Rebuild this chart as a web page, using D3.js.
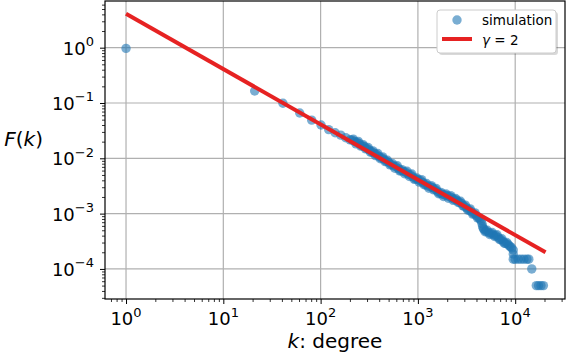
<!DOCTYPE html>
<html lang="en">
<head>
  <meta charset="UTF-8">
  <script src="https://cdn.jsdelivr.net/npm/d3@7"></script>
  <title>F(k) vs degree</title>
  <style>
    body { margin: 0; background: #fff; }
    svg { font-family: "DejaVu Sans", sans-serif; }
  </style>
</head>
<body>
  <svg width="566" height="354" id="chart"></svg>
  <script>
    // simulation points: degree k and F(k)
    let simK = [1, 21, 41, 61, 81, 101, 121, 141, 161, 181,
      201, 211, 224, 237, 251, 266, 282, 299, 316, 335,
      355, 376, 398, 422, 447, 473, 501, 531, 562, 596,
      631, 668, 708, 750, 794, 841, 891, 944, 1000, 1059,
      1122, 1189, 1259, 1334, 1413, 1496, 1585, 1679, 1778, 1884,
      1995, 2113, 2239, 2371, 2512, 2661, 2818, 2985, 3162, 3350,
      3548, 3758, 3981, 4217, 4467, 4624, 4786, 5012, 5309, 5623,
      5957, 6310, 6683, 7079, 7499, 7943, 8414, 8913, 9550, 9550,
      9550, 10000, 10720, 11480, 12300, 13180, 13800, 14800, 16480, 17380,
      18410, 19500];
    let simF = [0.97, 0.165, 0.099, 0.066, 0.049, 0.040, 0.0330, 0.0290, 0.0262, 0.0236,
      0.0216, 0.0213, 0.0201, 0.0194, 0.0183, 0.0169, 0.0163, 0.0151, 0.0142, 0.0131,
      0.0124, 0.0117, 0.0108, 0.0102, 0.00962, 0.00887, 0.00838, 0.00773, 0.00730, 0.00705,
      0.00650, 0.00600, 0.00579, 0.00560, 0.00516, 0.00499, 0.00460, 0.00425, 0.00410, 0.00396,
      0.00366, 0.00337, 0.00318, 0.00308, 0.00297, 0.00274, 0.00253, 0.00233, 0.00225, 0.00218,
      0.00210, 0.00203, 0.00192, 0.00181, 0.00175, 0.00161, 0.00152, 0.00137, 0.00127, 0.00117,
      0.00108, 0.000995, 0.000918, 0.000847, 0.000746, 0.000586, 0.000516, 0.000482, 0.000455, 0.000440,
      0.000415, 0.000401, 0.000370, 0.000341, 0.000315, 0.000290, 0.000281, 0.000253, 0.000220, 0.000186,
      0.000150, 0.000150, 0.000150, 0.000150, 0.000150, 0.000150, 0.000150, 0.000100, 0.00005, 0.00005,
      0.00005, 0.00005];

    // more simulation points inside the thick part of the band
    let bandK = [217, 231, 244, 259, 274, 290, 308, 325, 345, 366,
      387, 410, 435, 460, 487, 516, 547, 579, 614, 650,
      688, 729, 773, 818, 866, 918, 972, 1030, 1091, 1156,
      1225, 1297, 1374, 1455, 1541, 1633, 1729, 1831, 1941, 2055,
      2176, 2306, 2442, 2587, 2741, 2903, 3075, 3257, 3451, 3654,
      3871, 4100, 4344, 4550, 4700, 4900, 5160, 5470, 5790, 6140,
      6500, 6880, 7290, 7720, 8180, 8660, 9200];
    let bandF = [0.0222, 0.0182, 0.0202, 0.0166, 0.0176, 0.0148, 0.0157, 0.0129, 0.0136, 0.0112,
      0.0122, 0.00980, 0.0106, 0.00873, 0.00922, 0.00760, 0.00804, 0.00662, 0.00733, 0.00590,
      0.00624, 0.00525, 0.00582, 0.00468, 0.00519, 0.00417, 0.00442, 0.00372, 0.00412, 0.00332,
      0.00350, 0.00288, 0.00320, 0.00269, 0.00285, 0.00229, 0.00242, 0.00204, 0.00227, 0.00190,
      0.00211, 0.00174, 0.00188, 0.00159, 0.00167, 0.00138, 0.00142, 0.00115, 0.00122, 0.000980,
      0.00103, 0.000833, 0.000800, 0.000660, 0.000540, 0.000470, 0.000500, 0.000420, 0.000455, 0.000385,
      0.000415, 0.000340, 0.000352, 0.000292, 0.000300, 0.000262, 0.000240];

    // gamma = 2 reference line (end points)
    let lineK = [1, 20500];
    let lineF = [4.1, 0.0002];

    // tick labels
    let xTicks = [1, 10, 100, 1000, 10000];
    let xTickExp = ["0", "1", "2", "3", "4"];
    let yTicks = [1, 0.1, 0.01, 0.001, 0.0001];
    let yTickExp = ["0", "\u22121", "\u22122", "\u22123", "\u22124"];

    let svg = d3.select("#chart");
    let pLeft = 105, pRight = 565, pTop = 1, pBottom = 299;

    /* SCALES */
    let x = d3.scaleLog().domain([0.608, 32500]).range([pLeft, pRight]);
    let y = d3.scaleLog().domain([2.86e-5, 6.98]).range([pBottom, pTop]);

    let xMinor = x.ticks().filter(t => xTicks.indexOf(t) < 0);
    let yMinor = y.ticks().filter(t => yTicks.indexOf(t) < 0);

    /* GRID */
    svg.append("g").selectAll("line").data(xTicks).enter().append("line")
      .attr("x1", d => x(d)).attr("x2", d => x(d))
      .attr("y1", pTop).attr("y2", pBottom)
      .attr("stroke", "#b0b0b0").attr("stroke-width", 1.2);
    svg.append("g").selectAll("line").data(yTicks).enter().append("line")
      .attr("y1", d => y(d)).attr("y2", d => y(d))
      .attr("x1", pLeft).attr("x2", pRight)
      .attr("stroke", "#b0b0b0").attr("stroke-width", 1.2);

    /* AXES (ticks only, labels drawn by hand for the superscripts) */
    function ticks(axis, values, size, w) {
      let g = svg.append("g").call(axis.tickValues(values).tickSize(size).tickFormat(""));
      g.select(".domain").remove();
      g.selectAll("line").attr("stroke", "#000").attr("stroke-width", w);
      return g;
    }
    ticks(d3.axisBottom(x), xTicks, 5, 1).attr("transform", "translate(0," + pBottom + ")");
    ticks(d3.axisBottom(x), xMinor, 3, 0.8).attr("transform", "translate(0," + pBottom + ")");
    ticks(d3.axisLeft(y), yTicks, 5, 1).attr("transform", "translate(" + pLeft + ",0)");
    ticks(d3.axisLeft(y), yMinor, 3, 0.8).attr("transform", "translate(" + pLeft + ",0)");

    xTicks.forEach((t, i) => {
      let txt = svg.append("text").attr("x", x(t)).attr("y", 325)
        .attr("text-anchor", "middle").style("font-size", "18px").attr("fill", "#000");
      txt.append("tspan").text("10");
      txt.append("tspan").attr("dy", -8.5).style("font-size", "13px").text(xTickExp[i]);
    });
    yTicks.forEach((t, i) => {
      let txt = svg.append("text").attr("x", 94).attr("y", y(t) + 7)
        .attr("text-anchor", "end").style("font-size", "18px").attr("fill", "#000");
      txt.append("tspan").text("10");
      txt.append("tspan").attr("dy", -8.5).style("font-size", "13px").text(yTickExp[i]);
    });

    /* PLOT DATA */
    let pts = simK.map((k, i) => ({k: k, f: simF[i]}))
      .concat(bandK.map((k, i) => ({k: k, f: bandF[i]})));
    svg.append("g").selectAll("circle").data(pts).enter().append("circle")
      .attr("cx", d => x(d.k))
      .attr("cy", d => y(d.f))
      .attr("r", 4.7)
      .attr("fill", "#1f77b4")
      .attr("fill-opacity", 0.6);

    let line = d3.line().x(d => x(d[0])).y(d => y(d[1]));
    svg.append("path")
      .attr("d", line(lineK.map((k, i) => [k, lineF[i]])))
      .attr("stroke", "#e62222").attr("stroke-width", 4).attr("fill", "none");

    /* SPINES */
    svg.append("rect")
      .attr("x", pLeft).attr("y", pTop)
      .attr("width", pRight - pLeft).attr("height", pBottom - pTop)
      .attr("fill", "none").attr("stroke", "#000").attr("stroke-width", 1.2);

    /* AXIS LABELS */
    let xl = svg.append("text").attr("x", (pLeft + pRight) / 2).attr("y", 348)
      .attr("text-anchor", "middle").style("font-size", "20px");
    xl.append("tspan").style("font-style", "italic").text("k");
    xl.append("tspan").text(": degree");

    let yl = svg.append("text").attr("x", 43).attr("y", 145.5)
      .attr("text-anchor", "end").style("font-size", "20px");
    yl.append("tspan").style("font-style", "italic").text("F");
    yl.append("tspan").text("(");
    yl.append("tspan").style("font-style", "italic").text("k");
    yl.append("tspan").text(")");

    /* LEGEND */
    let lg = svg.append("g");
    lg.append("rect").attr("x", 439).attr("y", 12).attr("width", 119).attr("height", 43)
      .attr("rx", 3).attr("fill", "#000").attr("fill-opacity", 0.15);
    lg.append("rect").attr("x", 437).attr("y", 10).attr("width", 119).attr("height", 43)
      .attr("rx", 3).attr("fill", "#fff").attr("stroke", "#cccccc").attr("stroke-width", 1);
    lg.append("circle").attr("cx", 457).attr("cy", 20).attr("r", 4.7)
      .attr("fill", "#1f77b4").attr("fill-opacity", 0.6);
    lg.append("text").attr("x", 482).attr("y", 24.5).style("font-size", "13.5px").text("simulation");
    lg.append("line").attr("x1", 442).attr("x2", 472).attr("y1", 39).attr("y2", 39)
      .attr("stroke", "#e62222").attr("stroke-width", 4);
    let g2 = lg.append("text").attr("x", 482).attr("y", 44.5).style("font-size", "13.5px");
    g2.append("tspan").style("font-style", "italic").text("\u03b3");
    g2.append("tspan").text(" = 2");
  </script>
</body>
</html>
